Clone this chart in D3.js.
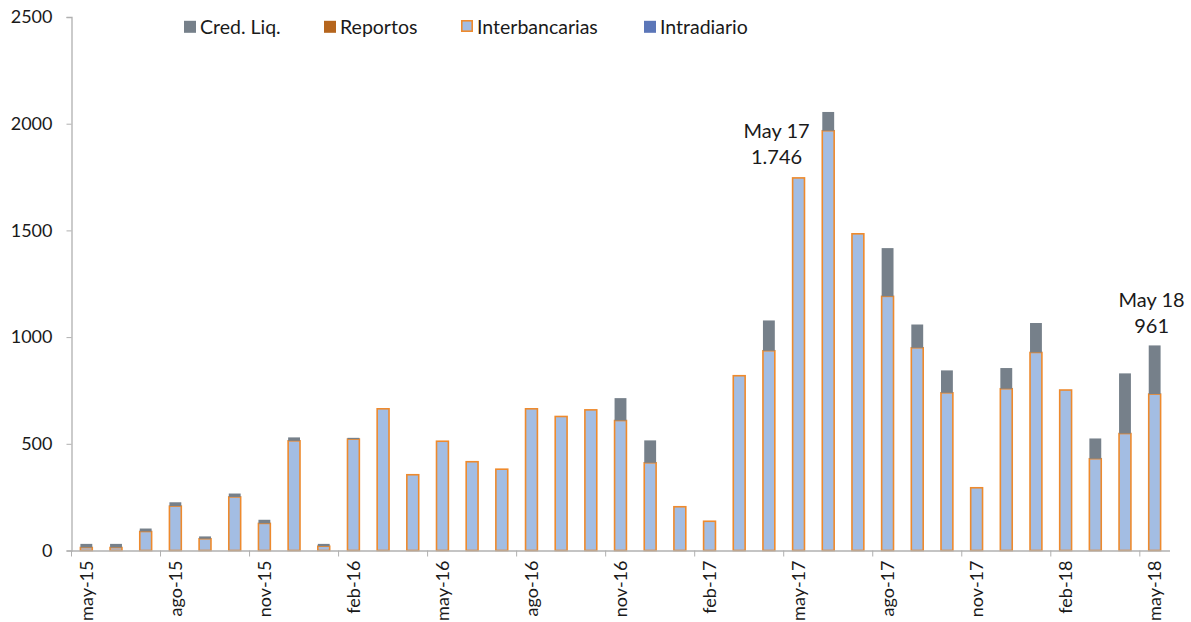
<!DOCTYPE html>
<html>
<head>
<meta charset="utf-8">
<script src="https://cdn.jsdelivr.net/npm/d3@7"></script>
<style>
  body { margin: 0; background: #fff; }
  text { font-family: Lato, "Open Sans", sans-serif; fill: #1a1a1a; }
</style>
</head>
<body>
<div id="chart-area"></div>
<script>
// monthly data, may-15 .. may-18
var months = ['may-15','jun-15','jul-15','ago-15','sep-15','oct-15','nov-15','dic-15','ene-16',
  'feb-16','mar-16','abr-16','may-16','jun-16','jul-16','ago-16','sep-16','oct-16','nov-16',
  'dic-16','ene-17','feb-17','mar-17','abr-17','may-17','jun-17','jul-17','ago-17','sep-17',
  'oct-17','nov-17','dic-17','ene-18','feb-18','mar-18','abr-18','may-18'];
var interbancarias = [14,14,89,208,55,251,127,514,20,522,664,355,512,416,381,664,628,659,609,
  411,205,137,819,936,1746,1967,1484,1191,950,739,294,758,928,752,430,548,733];
var credLiq = [17,17,14,18,11,16,17,16,11,6,0,0,0,0,0,0,0,0,105,105,0,0,0,142,0,88,0,226,109,
  105,0,97,138,0,95,282,228];
var reportos = [0,0,0,0,0,0,0,0,0,0,0,0,0,0,0,0,0,0,0,0,0,0,0,0,0,0,0,0,0,0,0,0,0,0,0,0,0];
var intradiario = [0,0,0,0,0,0,0,0,0,0,0,0,0,0,0,0,0,0,0,0,0,0,0,0,0,0,0,0,0,0,0,0,0,0,0,0,0];
var yTicks = [0, 500, 1000, 1500, 2000, 2500];
var annotations = [
  { month: 'may-17', lines: ['May 17', '1.746'] },
  { month: 'may-18', lines: ['May 18', '961'] }
];

var width = 1191, height = 622;
var plotLeft = 71.5, plotRight = 1169.5, plotTop = 17, plotBottom = 550.5;

var svg = d3.select('#chart-area').append('svg')
  .attr('width', width)
  .attr('height', height);

// build rows for the stack
var rows = months.map((m, i) => ({
  month: m,
  inter: interbancarias[i],
  repo: reportos[i],
  intra: intradiario[i],
  cred: credLiq[i]
}));

var keys = ['inter', 'repo', 'intra', 'cred'];
var fills = { inter: '#a3bde3', repo: '#b5651d', intra: '#5b76b8', cred: '#76808a' };
var strokes = { inter: '#ee8a2d', repo: 'none', intra: 'none', cred: 'none' };

var series = d3.stack().keys(keys)(rows);

var x = d3.scaleBand().domain(months).range([plotLeft, plotRight]).padding(0);
var y = d3.scaleLinear().domain([0, 2500]).range([plotBottom, plotTop]);
var barW = x.bandwidth() * 0.4;

// y axis
var yAxis = svg.append('g')
  .attr('class', 'y-axis')
  .attr('transform', 'translate(' + plotLeft + ',0)')
  .call(d3.axisLeft(y).tickValues(yTicks).tickSize(5).tickPadding(14).tickFormat(d3.format('d')));
yAxis.select('.domain').attr('stroke', '#b0b0b0').attr('stroke-width', 1.3);
yAxis.selectAll('.tick line').attr('stroke', '#b0b0b0');
yAxis.selectAll('.tick text').style('font-size', '18px').attr('fill', '#1a1a1a');

// bars
var groups = svg.append('g').selectAll('g.layer')
  .data(series)
  .enter().append('g')
  .attr('class', 'layer');

groups.selectAll('rect')
  .data(d => d.map(p => ({ key: d.key, p: p })).filter(e => e.p[1] - e.p[0] > 0))
  .enter().append('rect')
  .attr('x', d => x(d.p.data.month) + (x.bandwidth() - barW) / 2)
  .attr('y', d => y(d.p[1]))
  .attr('width', barW)
  .attr('height', d => y(d.p[0]) - y(d.p[1]))
  .attr('fill', d => fills[d.key])
  .attr('stroke', d => strokes[d.key])
  .attr('stroke-width', 1.6);

// x axis: labels every third month, tick marks on band edges
var labelled = months.filter((m, i) => i % 3 == 0);
var xAxis = svg.append('g')
  .attr('class', 'x-axis')
  .attr('transform', 'translate(0,' + plotBottom + ')')
  .call(d3.axisBottom(x).tickValues(labelled).tickSize(6).tickSizeOuter(0));
xAxis.select('.domain').attr('stroke', '#b0b0b0').attr('stroke-width', 1.3);
xAxis.selectAll('.tick line')
  .attr('stroke', '#b0b0b0')
  .attr('x1', -x.step() / 2)
  .attr('x2', -x.step() / 2);
xAxis.selectAll('.tick text')
  .style('font-size', '18px')
  .attr('fill', '#1a1a1a')
  .attr('text-anchor', 'end')
  .attr('transform', 'rotate(-90)')
  .attr('x', -10)
  .attr('y', 0)
  .attr('dy', '0.35em');

// annotations above bars
annotations.forEach(a => {
  var i = months.indexOf(a.month);
  var total = interbancarias[i] + reportos[i] + intradiario[i] + credLiq[i];
  var cx = x(a.month) + x.bandwidth() / 2 + (a.month == 'may-17' ? -22 : -3);
  var t = svg.append('text')
    .attr('text-anchor', 'middle')
    .style('font-size', '20px');
  a.lines.forEach((line, j) => {
    t.append('tspan')
      .attr('x', cx)
      .attr('y', y(total) - (a.month == 'may-17' ? 14 : 12) - (a.lines.length - 1 - j) * 26)
      .text(line);
  });
});

// legend
var legendItems = [
  { label: 'Cred. Liq.', key: 'cred', x: 184 },
  { label: 'Reportos', key: 'repo', x: 324 },
  { label: 'Interbancarias', key: 'inter', x: 461 },
  { label: 'Intradiario', key: 'intra', x: 644 }
];
var legend = svg.append('g').attr('class', 'legend');
legendItems.forEach(item => {
  legend.append('rect')
    .attr('x', item.x + (item.key == 'inter' ? 0.8 : 0))
    .attr('y', 20.8)
    .attr('width', item.key == 'inter' ? 10.4 : 12)
    .attr('height', item.key == 'inter' ? 10.4 : 12)
    .attr('fill', fills[item.key])
    .attr('stroke', strokes[item.key])
    .attr('stroke-width', 1.6);
  legend.append('text')
    .attr('x', item.x + 16)
    .attr('y', 27)
    .attr('dy', '0.35em')
    .style('font-size', '19.5px')
    .text(item.label);
});
</script>
</body>
</html>
